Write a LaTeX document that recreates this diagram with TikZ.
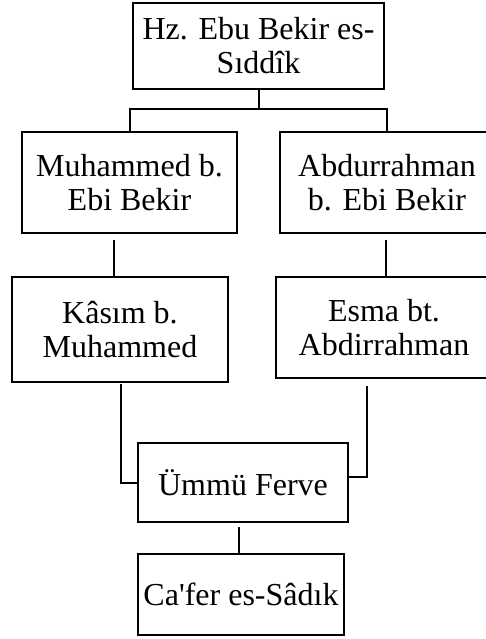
\documentclass[tikz,border=0pt]{standalone}
\usepackage{fontspec}
\setmainfont{Liberation Serif}
\begin{document}
\begin{tikzpicture}[x=1pt,y=-1pt,
  box/.style={draw=black,line width=2pt,rectangle,inner sep=0pt,align=center,
    font=\fontsize{32}{34}\selectfont},
  link/.style={draw=black,line width=2pt}]
\useasboundingbox (0,0) rectangle (486,639);
\clip (0,0) rectangle (486,639);
\fill[white] (0,0) rectangle (486,639);
\node[box,minimum width=251pt,minimum height=86pt] (top) at (258.5,46) {Hz. Ebu Bekir es-\\Sıddîk};
\node[box,minimum width=215pt,minimum height=101pt] (muh) at (129.5,182.5) {Muhammed b.\\Ebi Bekir};
\node[box,minimum width=214pt,minimum height=101pt] (abd) at (387,182.5) {Abdurrahman\\b. Ebi Bekir};
\node[box,minimum width=216pt,minimum height=105pt] (kas) at (120,329.5) {Kâsım b.\\Muhammed};
\node[box,minimum width=216pt,minimum height=101pt] (esma) at (384,327.5) {Esma bt.\\Abdirrahman};
\node[box,minimum width=210pt,minimum height=79pt] (ummu) at (243,482.5) {Ümmü Ferve};
\node[box,minimum width=206pt,minimum height=81pt] (cafer) at (241,594.5) {Ca\textquotesingle fer es-Sâdık};
\coordinate (j) at ([yshift=-19pt]top.south);
\draw[link] (top.south) -- (j);
\draw[link] (j) -| (muh.north);
\draw[link] (j) -| (abd.north);
\draw[link] ([xshift=-15.5pt,yshift=-6pt]muh.south) -- ([xshift=-6pt]kas.north);
\draw[link] ([xshift=-1pt,yshift=-6pt]abd.south) -- ([xshift=2pt]esma.north);
\draw[link] ([xshift=1pt,yshift=-1pt]kas.south) |- (ummu.west);
\draw[link] ([xshift=-17pt,yshift=-7pt]esma.south) |- ([yshift=5.5pt]ummu.east);
\draw[link] ([xshift=-4pt,yshift=-4pt]ummu.south) -- ([xshift=-2pt]cafer.north);
\end{tikzpicture}
\end{document}
